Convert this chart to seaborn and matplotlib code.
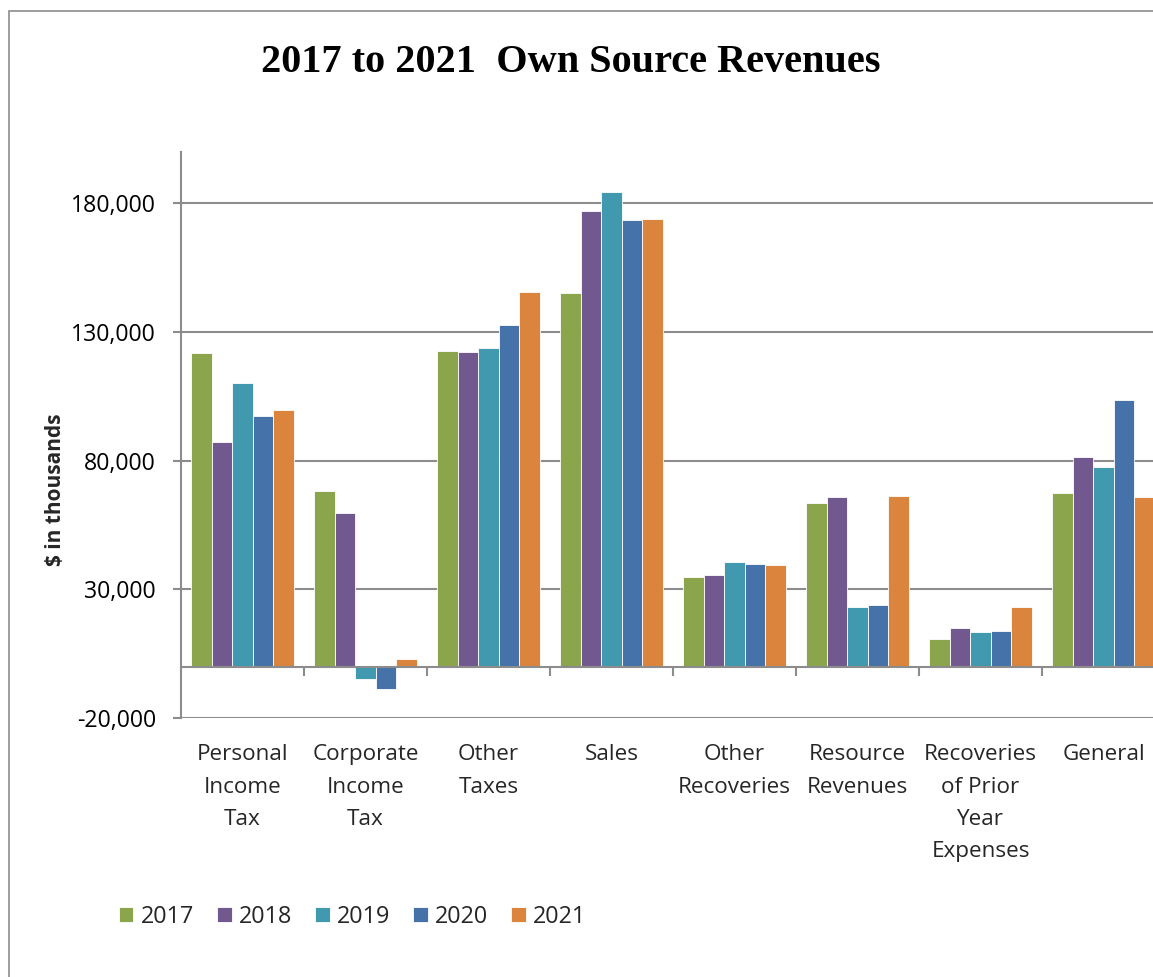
import pandas as pd
import matplotlib.pyplot as plt
import matplotlib.ticker as mticker
from matplotlib.patches import Rectangle
import seaborn as sb


# Dane ($ w tysiącach)
categories = ['Personal Income Tax', 'Corporate Income Tax', 'Other Taxes', 'Sales',
              'Other Recoveries', 'Resource Revenues',
              'Recoveries of Prior Year Expenses', 'General']
category_labels = ['Personal\nIncome\nTax', 'Corporate\nIncome\nTax', 'Other\nTaxes', 'Sales',
                   'Other\nRecoveries', 'Resource\nRevenues',
                   'Recoveries\nof Prior\nYear\nExpenses', 'General']
years = ['2017', '2018', '2019', '2020', '2021']
rev_2017 = [121900, 68200, 122750, 145100, 34900, 63400, 10700, 67300]
rev_2018 = [87100, 59800, 122200, 177100, 35500, 65800, 14900, 81400]
rev_2019 = [110200, -4800, 124000, 184500, 40450, 23100, 13450, 77700]
rev_2020 = [97400, -8650, 132800, 173500, 40000, 23800, 13800, 103600]
rev_2021 = [99800, 3100, 145600, 173800, 39500, 66150, 23100, 66000]
year_colors = ['#8BA54D', '#71598F', '#4199B0', '#4572A8', '#DB843D']
y_ticks = [-20000, 30000, 80000, 130000, 180000]

GRID = '#8C8C8C'


def build_frame():
    rows = []
    for year, vals in zip(years, [rev_2017, rev_2018, rev_2019, rev_2020, rev_2021]):
        for cat, v in zip(categories, vals):
            rows.append({'category': cat, 'year': year, 'value': v})
    return pd.DataFrame(rows)


def main():
    sb.set_style('white')
    plt.rcParams['font.family'] = ['Open Sans', 'DejaVu Sans']
    plt.rcParams['axes.unicode_minus'] = False

    data = build_frame()

    fig = plt.figure(figsize=(11.53, 9.77), dpi=100)
    # wykres jest przycięty z prawej strony, tak jak na oryginale
    ax = fig.add_axes([181 / 1153, 1 - 718 / 977, 984 / 1153, 566 / 977])

    sb.barplot(data=data, x='category', y='value', hue='year', order=categories,
               hue_order=years, palette=year_colors, width=5 / 6, saturation=1,
               edgecolor='white', linewidth=0.6, ax=ax)

    ax.set_xlim(-0.5, len(categories) - 0.5)
    ax.set_ylim(-20000, 200000)
    ax.set_yticks(y_ticks)
    ax.yaxis.set_major_formatter(mticker.StrMethodFormatter('{x:,.0f}'))
    ax.grid(axis='y', color=GRID, linewidth=1.5)
    ax.set_axisbelow(True)

    for side in ['top', 'right']:
        ax.spines[side].set_visible(False)
    ax.spines['left'].set_color(GRID)
    ax.spines['left'].set_linewidth(1.5)
    ax.spines['bottom'].set_color(GRID)
    ax.spines['bottom'].set_linewidth(1.5)
    ax.spines['bottom'].set_position(('data', 0))

    ax.tick_params(axis='y', left=True, length=6, width=1.5, color=GRID,
                   labelsize=16.7, pad=12, labelcolor='black')
    ax.set_xticks(range(len(categories)))
    ax.set_xticklabels(category_labels, linespacing=1.7)
    ax.set_xticks([i + 0.5 for i in range(len(categories))], minor=True)
    ax.tick_params(axis='x', which='major', bottom=True, length=0, labelsize=16.2, pad=56)
    ax.tick_params(axis='x', which='minor', bottom=True, length=6.5, width=1.5,
                   color=GRID, direction='out')
    ax.set_xlabel('')
    ax.set_ylabel('')

    # legenda na dole
    handles, labels = ax.get_legend_handles_labels()
    ax.get_legend().remove()
    fig.legend(handles, labels, loc='center left',
               bbox_to_anchor=(119 / 1153, 1 - 917 / 977), ncol=5, frameon=False,
               fontsize=16.8, handlelength=0.62, handleheight=0.62,
               handletextpad=0.3, columnspacing=1.0, borderpad=0, borderaxespad=0)

    fig.text(571 / 1153, 1 - 72 / 977, '2017 to 2021  Own Source Revenues',
             ha='center', va='baseline', fontsize=29, fontweight='bold', color='black',
             family=['Liberation Serif', 'DejaVu Serif'])
    fig.text(56 / 1153, 1 - 490 / 977, '$ in thousands', rotation=90,
             ha='center', va='center', fontsize=15, fontweight='bold')

    # ramka wokół obszaru wykresu
    fig.add_artist(Rectangle((9 / 1153, -0.1), 1.2, 1.1 - 11 / 977,
                             transform=fig.transFigure, fill=False,
                             edgecolor='#8C8C8C', linewidth=1.2))

    fig.savefig('out.png', dpi=100)


if __name__ == "__main__":
    main()
